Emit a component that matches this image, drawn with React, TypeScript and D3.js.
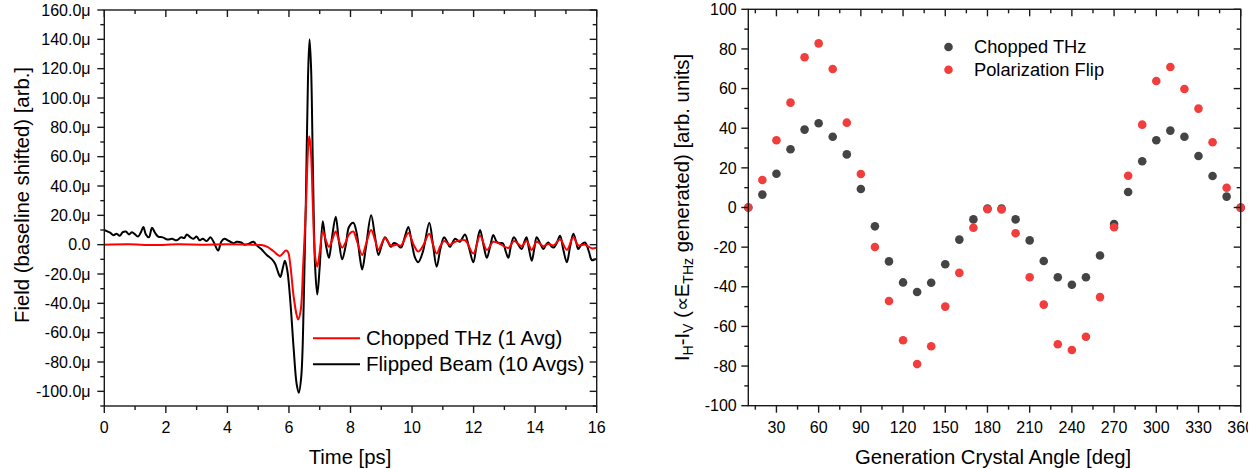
import React from "react";
import * as d3 from "d3";

// ---- Left panel data (time in ps, field in μ arb.) ----
const flippedTime = [0, 0.1, 0.2, 0.3, 0.4, 0.5, 0.6, 0.7, 0.8, 0.9, 1.0, 1.1, 1.2, 1.27, 1.35, 1.45, 1.55, 1.65, 1.75, 1.9, 2.05, 2.2, 2.35, 2.5, 2.6, 2.68, 2.8, 2.9, 3.0, 3.1, 3.2, 3.33, 3.45, 3.55, 3.7, 3.8, 3.9, 4.05, 4.2, 4.3, 4.45, 4.55, 4.68, 4.85, 4.95, 5.1, 5.28, 5.45, 5.55, 5.65, 5.72, 5.8, 5.87, 5.95, 6.05, 6.15, 6.25, 6.32, 6.4, 6.48, 6.55, 6.62, 6.67, 6.72, 6.78, 6.85, 6.92, 7.0, 7.1, 7.2, 7.3, 7.4, 7.52, 7.62, 7.73, 7.85, 7.95, 8.09, 8.2, 8.3, 8.38, 8.5, 8.67, 8.8, 8.91, 9.02, 9.12, 9.22, 9.31, 9.4, 9.5, 9.64, 9.76, 9.88, 10.0, 10.1, 10.2, 10.35, 10.56, 10.68, 10.8, 10.92, 11.04, 11.14, 11.23, 11.4, 11.55, 11.72, 11.85, 11.99, 12.1, 12.21, 12.32, 12.43, 12.55, 12.64, 12.75, 12.85, 12.95, 13.05, 13.13, 13.22, 13.31, 13.45, 13.56, 13.65, 13.72, 13.8, 13.89, 13.97, 14.05, 14.16, 14.27, 14.35, 14.43, 14.52, 14.6, 14.7, 14.81, 14.92, 15.03, 15.13, 15.24, 15.33, 15.4, 15.5, 15.62, 15.75, 15.84, 15.95, 16.0];
const flippedField = [10, 9, 8, 6.5, 7.5, 6, 8.5, 9, 7, 8.5, 7, 5.5, 9, 12, 7, 5, 11.5, 8, 5.5, 5, 3.5, 4, 3, 5, 4.5, 7, 5, 4, 5.5, 3, 4, 2.5, 5, 2, -4, 2, 4, 2.5, 1, 2, 1.5, 0, 0.5, 2, -0.5, -3, -7, -10, -13, -19, -22, -16, -11, -18, -40, -70, -95, -101, -90, -40, 30, 115, 140, 120, 50, -15, -34, -15, 16, 0, -9, 5, 19, 3, -10, 0, 12, 15, 8, -8, -17, -2, 20, 5, -7, 0, 5, 2, -1.5, 1, 0.5, -2, 5, 12, 0, -9, -12, -5, 15, 0, -15, -3, 5, 2, -1.5, 4, 2, 7, -2, -12, 0, 10, 0, -9, 0, 6.6, 2, 1, 1, -5, -9, 0, 5, 0, -3, 2, 5, -3, -11, -3, 5, 1, -3, 0, 1.5, -1, -2, 1, 6, -4, -12, -2, 7.5, 2, -3, 0, 1.5, -5, -10.5, -10, -10];

const choppedTime = [0, 0.8, 1.6, 2.4, 3.2, 4.0, 4.8, 5.1, 5.3, 5.5, 5.7, 5.8, 5.9, 5.97, 6.05, 6.15, 6.25, 6.3, 6.38, 6.46, 6.55, 6.62, 6.66, 6.71, 6.78, 6.85, 6.92, 7.0, 7.1, 7.2, 7.3, 7.4, 7.52, 7.62, 7.73, 7.85, 7.95, 8.09, 8.2, 8.38, 8.5, 8.67, 8.8, 8.91, 9.02, 9.12, 9.31, 9.5, 9.64, 9.88, 10.05, 10.2, 10.35, 10.56, 10.68, 10.8, 10.92, 11.04, 11.23, 11.4, 11.72, 11.99, 12.21, 12.43, 12.64, 12.85, 13.13, 13.31, 13.56, 13.72, 13.89, 14.05, 14.27, 14.43, 14.6, 14.81, 15.03, 15.24, 15.4, 15.62, 15.84, 16.0];
const choppedField = [0, 0.2, -0.2, 0.2, 0, 0.2, 0, -0.3, -1.5, -4.5, -7.7, -6, -4, -5, -15, -35, -48, -51, -45, -15, 25, 65, 74, 65, 25, -8, -15, -5, 9, 3, -1.5, 3, 9, 3, -2, 2, 7, 9, 3, -7, 0, 10, 3, -3.6, 1, 4.5, -0.6, 0, -0.6, 8, 0, -4.7, -1, 7.5, 0, -6, -1, 2.5, 0, 2, 3, -6, 6, -3.6, 2, 0.5, -2.3, 2.5, -1, 2.5, -3.6, 2, -1, 0.5, -0.5, 3.5, -3.5, 5, -0.5, 0, -2.5, -2];

const leftXTicks = [0, 2, 4, 6, 8, 10, 12, 14, 16];
const leftYTicks = [-100, -80, -60, -40, -20, 0, 20, 40, 60, 80, 100, 120, 140, 160];

// ---- Right panel data ----
const angles = [10, 20, 30, 40, 50, 60, 70, 80, 90, 100, 110, 120, 130, 140, 150, 160, 170, 180, 190, 200, 210, 220, 230, 240, 250, 260, 270, 280, 290, 300, 310, 320, 330, 340, 350, 360];
const choppedTHz = [0, 6.5, 17, 29.4, 39.3, 42.5, 35.7, 26.8, 9.3, -9.5, -27.2, -37.8, -42.6, -38, -28.6, -16.2, -6, -0.5, -0.5, -6, -16.6, -27, -35.2, -39, -35.2, -24.2, -8.3, 7.8, 23.3, 33.9, 38.8, 35.7, 26, 15.9, 5.5, 0];
const polarizationFlip = [0, 13.9, 33.9, 52.9, 75.8, 82.8, 69.9, 42.8, 16.9, -19.9, -47.2, -67, -79, -70, -50, -33, -10.2, -0.9, -1, -13, -35.2, -49, -69, -71.9, -65.2, -45.2, -10, 16, 41.8, 63.8, 70.9, 59.8, 49.9, 32.9, 10, -0.2];

const rightXTicks = [30, 60, 90, 120, 150, 180, 210, 240, 270, 300, 330, 360];
const rightYTicks = [-100, -80, -60, -40, -20, 0, 20, 40, 60, 80, 100];

const FONT = "'Liberation Sans', Arial, Helvetica, sans-serif";

export default function App() {
  const lx = d3.scaleLinear().domain([0, 16]).range([104.3, 596.7]);
  const ly = d3.scaleLinear().domain([-110, 160]).range([406, 10]);
  const rx = d3.scaleLinear().domain([10, 360]).range([748.3, 1240.7]);
  const ry = d3.scaleLinear().domain([-100, 100]).range([405.7, 9.3]);

  const line = d3
    .line<[number, number]>()
    .x((d) => lx(d[0]))
    .y((d) => ly(d[1]))
    .curve(d3.curveCatmullRom.alpha(0.5));

  const flippedPts: [number, number][] = flippedTime.map((t, i) => [t, flippedField[i]]);
  const choppedPts: [number, number][] = choppedTime.map((t, i) => [t, choppedField[i]]);

  const lxMinor = d3.range(0, 16.01, 1);
  const lyMinor = d3.range(-110, 160.01, 10);
  const rxMinor = d3.range(15, 360.01, 15);
  const ryMinor = d3.range(-100, 100.01, 10);

  const axisColor = "#1a1a1a";
  const sw = 1.4;

  const fmtLeft = (v: number) => (v === 0 ? "0.0" : `${v.toFixed(1)}μ`);

  const [lx0, lx1] = lx.range();
  const [ly0, ly1] = [ly(-110), ly(160)];
  const [rx0, rx1] = rx.range();
  const [ry0, ry1] = [ry(-100), ry(100)];

  return (
    <svg
      width={1248}
      height={469}
      style={{ position: "absolute", left: 0, top: 0, background: "#fff" }}
      fontFamily={FONT}
    >
      <rect x={0} y={0} width={1248} height={469} fill="#fff" />
      {/* ================= LEFT PANEL ================= */}
      <defs>
        <clipPath id="lclip">
          <rect x={lx0} y={ly1} width={lx1 - lx0} height={ly0 - ly1} />
        </clipPath>
      </defs>
      <g clipPath="url(#lclip)">
        <path d={line(flippedPts) || ""} fill="none" stroke="#000" strokeWidth={2} strokeLinejoin="round" />
        <path d={line(choppedPts) || ""} fill="none" stroke="#ff0000" strokeWidth={2} strokeLinejoin="round" />
      </g>
      <rect x={lx0} y={ly1} width={lx1 - lx0} height={ly0 - ly1} fill="none" stroke={axisColor} strokeWidth={sw} />
      {lxMinor.map((t) => {
        const major = leftXTicks.includes(t);
        const len = major ? 7 : 4;
        return (
          <g key={"lxt" + t}>
            <line x1={lx(t)} x2={lx(t)} y1={ly0} y2={ly0 + len} stroke={axisColor} strokeWidth={sw} />
            <line x1={lx(t)} x2={lx(t)} y1={ly1} y2={ly1 + len} stroke={axisColor} strokeWidth={sw} />
          </g>
        );
      })}
      {leftXTicks.map((t) => (
        <text key={"lxl" + t} x={lx(t)} y={432.5} fontSize={16} textAnchor="middle" fill="#000">
          {t}
        </text>
      ))}
      {lyMinor.map((v) => {
        const major = leftYTicks.includes(Math.round(v));
        const len = major ? 7 : 4;
        return (
          <g key={"lyt" + v}>
            <line x1={lx0 - len} x2={lx0} y1={ly(v)} y2={ly(v)} stroke={axisColor} strokeWidth={sw} />
            <line x1={lx1 - len} x2={lx1} y1={ly(v)} y2={ly(v)} stroke={axisColor} strokeWidth={sw} />
          </g>
        );
      })}
      {leftYTicks.map((v) => (
        <text key={"lyl" + v} x={90.5} y={ly(v) + 5.7} fontSize={16} textAnchor="end" fill="#000">
          {fmtLeft(v)}
        </text>
      ))}
      <text x={350} y={464} fontSize={20.3} textAnchor="middle" fill="#000">
        Time [ps]
      </text>
      <text transform="translate(28.5,195) rotate(-90)" fontSize={20.3} textAnchor="middle" fill="#000">
        Field (baseline shifted) [arb.]
      </text>
      <line x1={313} x2={360} y1={338.3} y2={338.3} stroke="#ff0000" strokeWidth={2} />
      <line x1={313} x2={360} y1={364.3} y2={364.3} stroke="#000" strokeWidth={2} />
      <text x={366} y={345} fontSize={20.5} fill="#000">
        Chopped THz (1 Avg)
      </text>
      <text x={366} y={371} fontSize={20.5} fill="#000">
        Flipped Beam (10 Avgs)
      </text>

      {/* ================= RIGHT PANEL ================= */}
      {angles.map((a, i) => (
        <circle key={"b" + a} cx={rx(a)} cy={ry(choppedTHz[i])} r={4.3} fill="#444444" />
      ))}
      {angles.map((a, i) => (
        <circle key={"r" + a} cx={rx(a)} cy={ry(polarizationFlip[i])} r={4.3} fill="#f23d3d" />
      ))}
      <rect x={rx0} y={ry1} width={rx1 - rx0} height={ry0 - ry1} fill="none" stroke={axisColor} strokeWidth={sw} />
      {rxMinor.map((t) => {
        const major = rightXTicks.includes(t);
        const len = major ? 7 : 4;
        return (
          <g key={"rxt" + t}>
            <line x1={rx(t)} x2={rx(t)} y1={ry0} y2={ry0 + len} stroke={axisColor} strokeWidth={sw} />
            <line x1={rx(t)} x2={rx(t)} y1={ry1} y2={ry1 + len} stroke={axisColor} strokeWidth={sw} />
          </g>
        );
      })}
      {rightXTicks.map((t) => (
        <text key={"rxl" + t} x={rx(t)} y={432.5} fontSize={16} textAnchor="middle" fill="#000">
          {t}
        </text>
      ))}
      {ryMinor.map((v) => {
        const major = rightYTicks.includes(Math.round(v));
        const len = major ? 7 : 4;
        return (
          <g key={"ryt" + v}>
            <line x1={rx0 - len} x2={rx0} y1={ry(v)} y2={ry(v)} stroke={axisColor} strokeWidth={sw} />
            <line x1={rx1 - len} x2={rx1} y1={ry(v)} y2={ry(v)} stroke={axisColor} strokeWidth={sw} />
          </g>
        );
      })}
      {rightYTicks.map((v) => (
        <text key={"ryl" + v} x={736.7} y={ry(v) + 5.7} fontSize={16} textAnchor="end" fill="#000">
          {v}
        </text>
      ))}
      <text x={993} y={464} fontSize={20.3} textAnchor="middle" fill="#000">
        Generation Crystal Angle [deg]
      </text>
      <text transform="translate(689,207.5) rotate(-90)" fontSize={20.3} textAnchor="middle" fill="#000">
        I
        <tspan fontSize={14} dy={4}>H</tspan>
        <tspan dy={-4}>-I</tspan>
        <tspan fontSize={14} dy={4}>V</tspan>
        <tspan dy={-4}> (∝E</tspan>
        <tspan fontSize={14} dy={4}>THz</tspan>
        <tspan dy={-4}> generated) [arb. units]</tspan>
      </text>
      <circle cx={948.5} cy={47} r={4.3} fill="#444444" />
      <circle cx={948.5} cy={69.7} r={4.3} fill="#f23d3d" />
      <text x={974} y={53.3} fontSize={18.3} fill="#000">
        Chopped THz
      </text>
      <text x={974} y={76} fontSize={18.3} fill="#000">
        Polarization Flip
      </text>
    </svg>
  );
}
